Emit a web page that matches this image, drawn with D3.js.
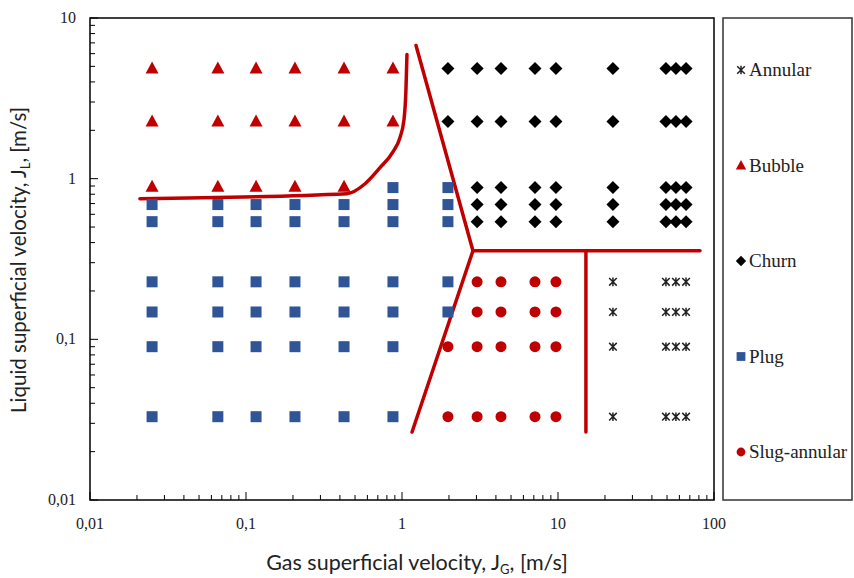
<!DOCTYPE html>
<html>
<head>
<meta charset="utf-8">
<script src="https://cdn.jsdelivr.net/npm/d3@7"></script>
<style>
  body { margin: 0; background: #fff; }
  svg { display: block; }
</style>
</head>
<body>
<svg id="chart" width="854" height="578"></svg>
<script>
// flow pattern map, JG (gas) vs JL (liquid), both m/s
var xTickVals = [0.01, 0.1, 1, 10, 100];
var xTickText = ["0,01", "0,1", "1", "10", "100"];
var yTickVals = [0.01, 0.1, 1, 10];
var yTickText = ["0,01", "0,1", "1", "10"];

var bubble = [
    [0.025, 4.85], [0.066, 4.85], [0.116, 4.85], [0.206, 4.85], [0.425, 4.85], [0.875, 4.85],
    [0.025, 2.27], [0.066, 2.27], [0.116, 2.27], [0.206, 2.27], [0.425, 2.27], [0.875, 2.27],
    [0.025, 0.89], [0.066, 0.89], [0.116, 0.89], [0.206, 0.89], [0.425, 0.89]
];
var plug = [
    [0.875, 0.88], [1.97, 0.88],
    [0.025, 0.69], [0.066, 0.69], [0.116, 0.69], [0.206, 0.69], [0.425, 0.69], [0.875, 0.69], [1.97, 0.69],
    [0.025, 0.54], [0.066, 0.54], [0.116, 0.54], [0.206, 0.54], [0.425, 0.54], [0.875, 0.54], [1.97, 0.54],
    [0.025, 0.228], [0.066, 0.228], [0.116, 0.228], [0.206, 0.228], [0.425, 0.228], [0.875, 0.228], [1.97, 0.228],
    [0.025, 0.148], [0.066, 0.148], [0.116, 0.148], [0.206, 0.148], [0.425, 0.148], [0.875, 0.148], [1.97, 0.148],
    [0.025, 0.09], [0.066, 0.09], [0.116, 0.09], [0.206, 0.09], [0.425, 0.09], [0.875, 0.09],
    [0.025, 0.033], [0.066, 0.033], [0.116, 0.033], [0.206, 0.033], [0.425, 0.033], [0.875, 0.033]
];
var churn = [
    [1.97, 4.85], [3.03, 4.85], [4.31, 4.85], [7.12, 4.85], [9.7, 4.85], [22.5, 4.85], [49.2, 4.85], [57, 4.85], [66.2, 4.85],
    [1.97, 2.27], [3.03, 2.27], [4.31, 2.27], [7.12, 2.27], [9.7, 2.27], [22.5, 2.27], [49.2, 2.27], [57, 2.27], [66.2, 2.27],
    [3.03, 0.88], [4.31, 0.88], [7.12, 0.88], [9.7, 0.88], [22.5, 0.88], [49.2, 0.88], [57, 0.88], [66.2, 0.88],
    [3.03, 0.69], [4.31, 0.69], [7.12, 0.69], [9.7, 0.69], [22.5, 0.69], [49.2, 0.69], [57, 0.69], [66.2, 0.69],
    [3.03, 0.54], [4.31, 0.54], [7.12, 0.54], [9.7, 0.54], [22.5, 0.54], [49.2, 0.54], [57, 0.54], [66.2, 0.54]
];
var slugAnnular = [
    [3.03, 0.228], [4.31, 0.228], [7.12, 0.228], [9.7, 0.228],
    [3.03, 0.148], [4.31, 0.148], [7.12, 0.148], [9.7, 0.148],
    [1.97, 0.09], [3.03, 0.09], [4.31, 0.09], [7.12, 0.09], [9.7, 0.09],
    [1.97, 0.033], [3.03, 0.033], [4.31, 0.033], [7.12, 0.033], [9.7, 0.033]
];
var annular = [
    [22.5, 0.228], [49.2, 0.228], [57, 0.228], [66.2, 0.228],
    [22.5, 0.148], [49.2, 0.148], [57, 0.148], [66.2, 0.148],
    [22.5, 0.09], [49.2, 0.09], [57, 0.09], [66.2, 0.09],
    [22.5, 0.033], [49.2, 0.033], [57, 0.033], [66.2, 0.033]
];

// transition lines
var bubblePlugLine = [[0.0209, 0.75], [0.443, 0.806], [0.58, 0.93], [0.723, 1.17], [0.875, 1.47],
    [0.97, 1.8], [1.03, 2.33], [1.06, 3.58], [1.076, 5.93]];
var churnLine = [[1.23, 6.74], [2.85, 0.356], [1.16, 0.0265]];
var churnSlugLine = [[2.85, 0.356], [81.3, 0.356]];
var slugAnnularLine = [[15.1, 0.356], [15.1, 0.0265]];

var legendNames = ["Annular", "Bubble", "Churn", "Plug", "Slug-annular"];

var red = "#c00000";
var blue = "#2f5597";

var svg = d3.select("#chart");
var x = d3.scaleLog().domain([0.01, 100]).range([90, 714]);
var y = d3.scaleLog().domain([0.01, 10]).range([500, 18]);

// minor ticks
var minorX = [];
var minorY = [];
[0.01, 0.1, 1, 10].forEach(function (d) {
    for (var k = 2; k < 10; k++) {
        minorX.push(d * k);
        if (d < 10) minorY.push(d * k);
    }
});

var axisG = svg.append("g");
axisG.selectAll(".mx").data(minorX).enter().append("line")
    .attr("x1", function (d) { return x(d); }).attr("x2", function (d) { return x(d); })
    .attr("y1", 500).attr("y2", 495).attr("stroke", "#000").attr("stroke-width", 1);
axisG.selectAll(".Mx").data(xTickVals).enter().append("line")
    .attr("x1", function (d) { return x(d); }).attr("x2", function (d) { return x(d); })
    .attr("y1", 500).attr("y2", 492).attr("stroke", "#000").attr("stroke-width", 1);
axisG.selectAll(".my").data(minorY).enter().append("line")
    .attr("y1", function (d) { return y(d); }).attr("y2", function (d) { return y(d); })
    .attr("x1", 90).attr("x2", 95).attr("stroke", "#000").attr("stroke-width", 1);
axisG.selectAll(".My").data(yTickVals).enter().append("line")
    .attr("y1", function (d) { return y(d); }).attr("y2", function (d) { return y(d); })
    .attr("x1", 90).attr("x2", 98).attr("stroke", "#000").attr("stroke-width", 1);

axisG.selectAll(".lx").data(xTickVals).enter().append("text")
    .attr("x", function (d) { return x(d); }).attr("y", 529)
    .attr("text-anchor", "middle")
    .style("font-family", "'Liberation Serif', serif").style("font-size", "16px").attr("fill", "#222")
    .text(function (d, i) { return xTickText[i]; });
axisG.selectAll(".ly").data(yTickVals).enter().append("text")
    .attr("x", 76).attr("y", function (d) { return y(d) + 5; })
    .attr("text-anchor", "end")
    .style("font-family", "'Liberation Serif', serif").style("font-size", "16px").attr("fill", "#222")
    .text(function (d, i) { return yTickText[i]; });

// frame
svg.append("rect").attr("x", 90).attr("y", 18).attr("width", 624).attr("height", 482)
    .attr("fill", "none").attr("stroke", "#000").attr("stroke-width", 1.5);
svg.append("rect").attr("x", 723).attr("y", 18).attr("width", 129).attr("height", 482)
    .attr("fill", "none").attr("stroke", "#333").attr("stroke-width", 1.5);

// axis titles
var xt = svg.append("text").attr("x", 417).attr("y", 570).attr("text-anchor", "middle")
    .style("font-family", "Lato, sans-serif").style("font-size", "21.5px").attr("fill", "#222");
xt.append("tspan").text("Gas superficial velocity, J");
xt.append("tspan").attr("dy", 4).style("font-size", "13px").text("G");
xt.append("tspan").attr("dy", -4).text(", [m/s]");

var yt = svg.append("text").attr("transform", "translate(26,260) rotate(-90)").attr("text-anchor", "middle")
    .style("font-family", "Lato, sans-serif").style("font-size", "20.5px").attr("fill", "#222");
yt.append("tspan").text("Liquid superficial velocity, J");
yt.append("tspan").attr("dy", 4).style("font-size", "13px").text("L");
yt.append("tspan").attr("dy", -4).text(", [m/s]");

// lines
var line = d3.line().x(function (d) { return x(d[0]); }).y(function (d) { return y(d[1]); });
var curve = d3.line().curve(d3.curveMonotoneX).x(function (d) { return x(d[0]); }).y(function (d) { return y(d[1]); });
var linesG = svg.append("g").attr("fill", "none").attr("stroke", red).attr("stroke-width", 3.5)
    .attr("stroke-linecap", "round").attr("stroke-linejoin", "round");
linesG.append("path").attr("d", curve(bubblePlugLine));
linesG.append("path").attr("d", line(churnLine));
linesG.append("path").attr("d", line(churnSlugLine));
linesG.append("path").attr("d", line(slugAnnularLine));

// markers
function drawMarker(g, type, cx, cy) {
    if (type === "Bubble") {
        g.append("path").attr("d", "M" + cx + "," + (cy - 7) + "L" + (cx + 6.5) + "," + (cy + 5) + "L" + (cx - 6.5) + "," + (cy + 5) + "Z")
            .attr("fill", red);
    } else if (type === "Plug") {
        g.append("rect").attr("x", cx - 5.5).attr("y", cy - 5.5).attr("width", 11).attr("height", 11).attr("fill", blue);
    } else if (type === "Churn") {
        g.append("path").attr("d", "M" + cx + "," + (cy - 6.5) + "L" + (cx + 6.5) + "," + cy + "L" + cx + "," + (cy + 6.5) + "L" + (cx - 6.5) + "," + cy + "Z")
            .attr("fill", "#000");
    } else if (type === "Slug-annular") {
        g.append("circle").attr("cx", cx).attr("cy", cy).attr("r", 5.5).attr("fill", red);
    } else {
        var s = 3.8;
        g.append("path").attr("d", "M" + (cx - s) + "," + (cy - s) + "L" + (cx + s) + "," + (cy + s) +
            "M" + (cx + s) + "," + (cy - s) + "L" + (cx - s) + "," + (cy + s) +
            "M" + cx + "," + (cy - s - 0.5) + "L" + cx + "," + (cy + s + 0.5))
            .attr("stroke", "#222").attr("stroke-width", 1.5).attr("fill", "none");
    }
}

var series = { "Annular": annular, "Bubble": bubble, "Churn": churn, "Plug": plug, "Slug-annular": slugAnnular };
var ptsG = svg.append("g");
legendNames.forEach(function (name) {
    series[name].forEach(function (p) {
        drawMarker(ptsG, name, x(p[0]), y(p[1]));
    });
});

// legend
var legG = svg.append("g");
var legY = d3.scalePoint().domain(legendNames).range([70, 452]);
legendNames.forEach(function (name) {
    var cy = legY(name);
    if (name === "Annular") drawMarker(legG, name, 741, cy);
    else {
        var g = legG.append("g").attr("transform", "translate(741," + cy + ") scale(0.8) translate(-741," + (-cy) + ")");
        drawMarker(g, name, 741, cy);
    }
    legG.append("text").attr("x", 749).attr("y", cy + 6)
        .style("font-family", "'Liberation Serif', serif").style("font-size", "19px").attr("fill", "#222")
        .text(name);
});
</script>
</body>
</html>
